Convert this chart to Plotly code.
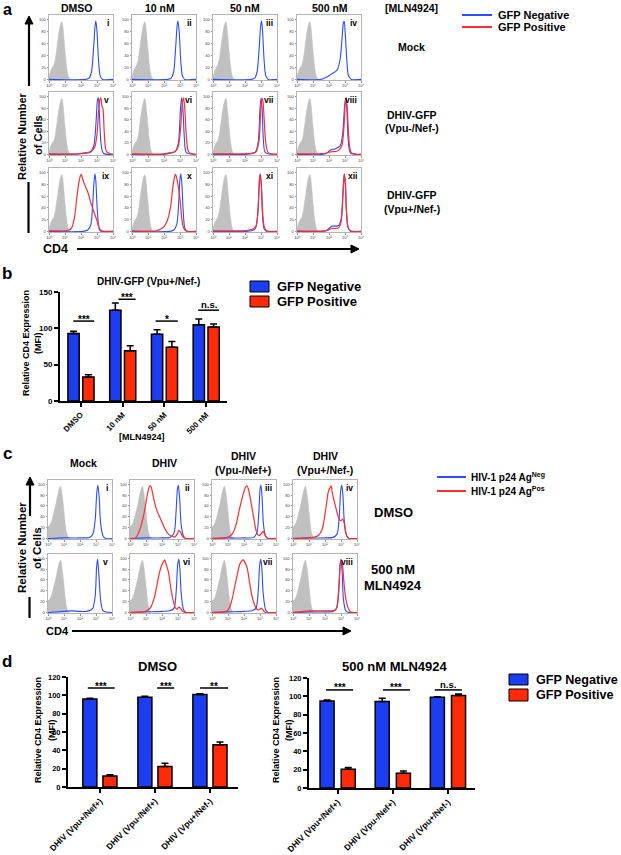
import plotly.graph_objects as go

# ====================== DATA ======================
# Histograms: x = log10(CD4 fluorescence), y = relative number of cells (% of max)
GRAY_A_X = [0, 0.1, 0.2, 0.3, 0.4, 0.5, 0.6, 0.7, 0.8, 0.85, 0.9, 1.0, 1.1, 1.2, 1.3, 1.4]
GRAY_A_Y = [5, 14, 20, 24, 35, 55, 75, 90, 97, 93, 80, 50, 22, 6, 1, 0]
GRAY_C_X = [0, 0.1, 0.2, 0.3, 0.4, 0.5, 0.6, 0.7, 0.78, 0.85, 0.95, 1.05, 1.15, 1.25, 1.35]
GRAY_C_Y = [22, 24, 30, 40, 52, 65, 80, 92, 97, 88, 65, 35, 12, 3, 0]

# Panel a (Mock row)
A1_BLUE_X = [0, 2.3, 2.5, 2.65, 2.78, 2.88, 2.93, 3.0, 3.1, 3.2, 3.35, 4]
A1_BLUE_Y = [0, 0, 2, 12, 50, 90, 98, 80, 30, 6, 0, 0]
A2_BLUE_X = [0, 2.25, 2.45, 2.6, 2.72, 2.82, 2.87, 2.95, 3.05, 3.15, 3.3, 4]
A2_BLUE_Y = [0, 0, 2, 12, 50, 90, 98, 80, 30, 6, 0, 0]
A3_BLUE_X = [0, 2.4, 2.6, 2.75, 2.88, 2.98, 3.04, 3.1, 3.2, 3.3, 3.45, 4]
A3_BLUE_Y = [0, 0, 2, 12, 50, 90, 98, 80, 30, 6, 0, 0]
A4_BLUE_X = [0, 1.5, 1.8, 2.0, 2.2, 2.4, 2.55, 2.7, 2.82, 2.9, 2.95, 3.02, 3.12, 3.22, 3.4, 4]
A4_BLUE_Y = [0, 0, 3, 6, 10, 13, 18, 35, 70, 95, 98, 75, 30, 6, 0, 0]
# Panel a (DHIV-GFP Vpu-/Nef- row)
A5_BLUE_X = [0, 1.8, 2.3, 2.6, 2.8, 2.95, 3.03, 3.08, 3.15, 3.25, 3.4, 4]
A5_BLUE_Y = [0, 1, 2, 4, 15, 60, 95, 98, 70, 20, 2, 0]
A5_RED_X = [0, 1.8, 2.3, 2.6, 2.85, 3.0, 3.1, 3.18, 3.24, 3.3, 3.38, 3.45, 3.6, 4]
A5_RED_Y = [1, 1, 3, 5, 12, 35, 75, 95, 98, 85, 78, 40, 5, 0]
A6_BLUE_X = [0, 2.0, 2.4, 2.7, 2.9, 3.02, 3.1, 3.18, 3.28, 3.4, 4]
A6_BLUE_Y = [0, 0, 2, 5, 20, 75, 98, 80, 25, 3, 0]
A6_RED_X = [0, 2.0, 2.4, 2.7, 2.9, 3.05, 3.15, 3.22, 3.3, 3.4, 3.55, 4]
A6_RED_Y = [1, 1, 3, 5, 15, 50, 90, 98, 80, 30, 4, 0]
A7_BLUE_X = [0, 2.0, 2.4, 2.65, 2.82, 2.93, 3.0, 3.07, 3.15, 3.28, 4]
A7_BLUE_Y = [0, 0, 1, 4, 20, 75, 98, 80, 25, 3, 0]
A7_RED_X = [0, 2.0, 2.4, 2.7, 2.88, 2.98, 3.06, 3.12, 3.2, 3.3, 3.45, 4]
A7_RED_Y = [1, 1, 2, 5, 25, 75, 97, 92, 60, 20, 3, 0]
A8_BLUE_X = [0, 1.8, 2.0, 2.2, 2.35, 2.5, 2.7, 2.85, 2.98, 3.05, 3.12, 3.2, 3.35, 4]
A8_BLUE_Y = [0, 1, 6, 9, 9, 11, 15, 35, 85, 98, 75, 25, 2, 0]
A8_RED_X = [0, 1.8, 2.0, 2.2, 2.4, 2.6, 2.8, 2.93, 3.02, 3.08, 3.15, 3.25, 3.4, 4]
A8_RED_Y = [1, 2, 4, 5, 5, 7, 15, 45, 90, 98, 75, 25, 3, 0]
# Panel a (DHIV-GFP Vpu+/Nef- row)
A9_BLUE_X = [0, 2.1, 2.4, 2.6, 2.72, 2.8, 2.87, 2.93, 3.0, 3.1, 3.2, 4]
A9_BLUE_Y = [0, 0, 2, 10, 40, 80, 98, 85, 45, 10, 1, 0]
A9_RED_X = [0, 1.2, 1.4, 1.6, 1.75, 1.9, 2.0, 2.05, 2.15, 2.3, 2.45, 2.6, 2.75, 2.85, 3.0, 3.15, 3.3, 4]
A9_RED_Y = [1, 2, 5, 25, 60, 88, 97, 95, 85, 75, 65, 50, 38, 30, 18, 5, 1, 0]
A10_BLUE_X = [0, 2.3, 2.6, 2.8, 2.92, 3.0, 3.05, 3.12, 3.2, 3.3, 3.45, 4]
A10_BLUE_Y = [0, 0, 2, 12, 50, 90, 98, 80, 35, 6, 0, 0]
A10_RED_X = [0, 1.5, 1.8, 2.0, 2.2, 2.4, 2.55, 2.65, 2.72, 2.8, 2.9, 3.0, 3.1, 3.2, 3.35, 4]
A10_RED_Y = [1, 1, 4, 8, 18, 40, 75, 92, 97, 90, 75, 55, 25, 8, 1, 0]
A11_BLUE_X = [0, 2.0, 2.4, 2.65, 2.8, 2.9, 2.95, 3.02, 3.1, 3.2, 3.35, 4]
A11_BLUE_Y = [0, 0, 1, 5, 30, 85, 98, 80, 25, 4, 0, 0]
A11_RED_X = [0, 1.8, 2.2, 2.5, 2.7, 2.82, 2.9, 2.95, 3.02, 3.1, 3.2, 3.35, 4]
A11_RED_Y = [1, 1, 2, 4, 10, 40, 88, 97, 80, 35, 8, 1, 0]
A12_BLUE_X = [0, 1.8, 2.0, 2.2, 2.4, 2.6, 2.75, 2.88, 2.95, 3.02, 3.1, 3.2, 3.35, 4]
A12_BLUE_Y = [0, 1, 5, 9, 9, 10, 20, 70, 98, 80, 30, 6, 0, 0]
A12_RED_X = [0, 1.8, 2.0, 2.2, 2.4, 2.6, 2.75, 2.88, 2.96, 3.03, 3.1, 3.2, 3.35, 4]
A12_RED_Y = [1, 1, 3, 5, 5, 6, 15, 65, 98, 80, 30, 6, 1, 0]

# Panel c (DMSO row)
C1_BLUE_X = [0, 1.0, 2.0, 2.6, 2.8, 2.95, 3.05, 3.12, 3.2, 3.3, 3.45, 3.6, 4]
C1_BLUE_Y = [0, 1, 1, 2, 8, 35, 85, 98, 75, 25, 4, 0, 0]
C2_BLUE_X = [0, 1.0, 2.0, 2.5, 2.75, 2.88, 2.96, 3.02, 3.1, 3.2, 3.35, 3.5, 4]
C2_BLUE_Y = [0, 1, 1, 2, 10, 50, 90, 98, 75, 25, 4, 0, 0]
C2_RED_X = [0, 0.3, 0.45, 0.6, 0.75, 0.9, 1.05, 1.2, 1.3, 1.4, 1.55, 1.7, 1.85, 2.0, 2.2, 2.4, 2.6, 2.8, 2.95, 3.05, 3.15, 3.3, 3.5, 4]
C2_RED_Y = [0, 0, 5, 15, 30, 50, 75, 95, 97, 85, 65, 50, 40, 30, 17, 8, 4, 3, 8, 15, 12, 3, 0, 0]
C3_BLUE_X = [0, 1.0, 2.0, 2.6, 2.8, 2.93, 3.0, 3.06, 3.13, 3.22, 3.35, 3.5, 4]
C3_BLUE_Y = [0, 1, 1, 2, 10, 50, 90, 98, 75, 25, 4, 0, 0]
C3_RED_X = [0, 0.8, 1.1, 1.3, 1.5, 1.65, 1.8, 1.95, 2.1, 2.2, 2.3, 2.45, 2.6, 2.75, 2.9, 3.0, 3.1, 3.2, 3.3, 3.45, 4]
C3_RED_Y = [0, 1, 4, 10, 25, 45, 65, 82, 95, 97, 88, 65, 40, 15, 6, 6, 10, 13, 7, 1, 0]
C4_BLUE_X = [0, 1.0, 2.0, 2.5, 2.75, 2.9, 2.98, 3.05, 3.12, 3.2, 3.35, 3.5, 4]
C4_BLUE_Y = [0, 1, 1, 2, 8, 45, 88, 98, 80, 35, 5, 0, 0]
C4_RED_X = [0, 1.0, 1.4, 1.6, 1.8, 1.95, 2.1, 2.2, 2.3, 2.38, 2.45, 2.55, 2.65, 2.75, 2.85, 2.95, 3.05, 3.12, 3.2, 3.3, 3.45, 4]
C4_RED_Y = [0, 1, 3, 6, 15, 35, 65, 85, 93, 97, 85, 72, 60, 48, 38, 33, 34, 36, 28, 10, 1, 0]
# Panel c (500 nM MLN4924 row)
C5_BLUE_X = [0, 1.0, 1.5, 2.0, 2.4, 2.65, 2.8, 2.95, 3.04, 3.1, 3.18, 3.3, 3.45, 4]
C5_BLUE_Y = [0, 2, 3, 2, 2, 4, 8, 30, 85, 98, 70, 20, 3, 0]
C6_BLUE_X = [0, 1.0, 2.0, 2.5, 2.75, 2.9, 2.98, 3.05, 3.12, 3.2, 3.35, 3.5, 4]
C6_BLUE_Y = [0, 1, 2, 3, 8, 45, 88, 98, 80, 35, 5, 0, 0]
C6_RED_X = [0, 0.8, 1.1, 1.3, 1.5, 1.65, 1.8, 1.95, 2.08, 2.17, 2.25, 2.4, 2.55, 2.7, 2.85, 2.95, 3.05, 3.15, 3.3, 3.45, 4]
C6_RED_Y = [0, 1, 4, 10, 25, 45, 68, 85, 93, 97, 90, 75, 45, 22, 8, 6, 10, 8, 2, 0, 0]
C7_BLUE_X = [0, 1.0, 2.0, 2.5, 2.75, 2.9, 2.98, 3.05, 3.12, 3.2, 3.35, 3.5, 4]
C7_BLUE_Y = [0, 1, 2, 3, 8, 45, 88, 98, 80, 35, 5, 0, 0]
C7_RED_X = [0, 0.7, 0.95, 1.1, 1.26, 1.4, 1.58, 1.72, 1.85, 1.96, 2.05, 2.2, 2.35, 2.5, 2.65, 2.8, 2.95, 3.08, 3.2, 3.35, 4]
C7_RED_Y = [0, 1, 3, 10, 25, 45, 70, 88, 95, 97, 93, 82, 55, 30, 15, 6, 5, 8, 4, 0, 0]
C8_BLUE_X = [0, 1.0, 2.0, 2.5, 2.7, 2.85, 2.94, 3.0, 3.07, 3.15, 3.3, 3.5, 4]
C8_BLUE_Y = [0, 1, 1, 2, 6, 40, 88, 98, 75, 25, 3, 0, 0]
C8_RED_X = [0, 1.0, 1.5, 2.0, 2.4, 2.6, 2.75, 2.88, 2.96, 3.02, 3.1, 3.2, 3.3, 3.45, 3.6, 4]
C8_RED_Y = [0, 3, 3, 3, 3, 4, 10, 50, 90, 97, 85, 50, 25, 8, 1, 0]

HIST_XTICKS = ["10⁰", "10¹", "10²", "10³", "10⁴"]
HIST_YTICKS = [0, 20, 40, 60, 80, 100]

# Panel b: relative CD4 expression (MFI), DHIV-GFP (Vpu+/Nef-)
B_CATS = ["DMSO", "10 nM", "50 nM", "500 nM"]
B_NEG = [93, 125, 92, 105]
B_NEG_ERR = [3, 10, 6, 8]
B_POS = [33, 69, 74, 102]
B_POS_ERR = [3, 7, 8, 4]
B_SIG_LABELS = ["***", "***", "*", "n.s."]
B_SIG_Y = [110, 140, 110, 125]

# Panel d
D_CATS = ["DHIV (Vpu+/Nef+)", "DHIV (Vpu-/Nef+)", "DHIV (Vpu+/Nef-)"]
D_DMSO_NEG = [96, 98, 101]
D_DMSO_NEG_ERR = [0.7, 1, 0.7]
D_DMSO_POS = [12, 22.5, 46]
D_DMSO_POS_ERR = [1.5, 3.5, 3]
D_DMSO_SIG = ["***", "***", "**"]
D_MLN_NEG = [95, 94.5, 99]
D_MLN_NEG_ERR = [1, 3.5, 0.5]
D_MLN_POS = [20.5, 16, 101]
D_MLN_POS_ERR = [2, 2.5, 1.5]
D_MLN_SIG = ["***", "***", "n.s."]
D_SIG_Y = 108

# ====================== STYLE / LAYOUT ======================
W, H = 621, 855
FONT = "Liberation Sans, Arial, Helvetica, sans-serif"
BLUE_LINE = "rgb(45,75,255)"
RED_LINE = "rgb(255,45,45)"
GRAY_FILL = "rgb(192,192,192)"
BAR_BLUE = "rgb(28,62,240)"
BAR_RED = "rgb(255,42,8)"


def PX(x):
    return x / W


def PY(y):
    return 1 - y / H


fig = go.Figure()
axes = {}
shapes = []
annotations = []
_n = [0]


def new_axes(x0, x1, y0, y1, xopts, yopts):
    _n[0] += 1
    s = "" if _n[0] == 1 else str(_n[0])
    axes["xaxis" + s] = dict(domain=[PX(x0), PX(x1)], anchor="y" + s, automargin=False, **xopts)
    axes["yaxis" + s] = dict(domain=[PY(y1), PY(y0)], anchor="x" + s, automargin=False, **yopts)
    return "x" + s, "y" + s


def text(x, y, s, size, xanchor="center", yanchor="middle", angle=0, bold=True, color="black", pad=1):
    annotations.append(dict(
        x=PX(x), y=PY(y), xref="paper", yref="paper",
        text=("<b>%s</b>" % s) if bold else s, showarrow=False,
        font=dict(family=FONT, size=size, color=color), borderpad=pad,
        xanchor=xanchor, yanchor=yanchor, textangle=angle))


def pline(x0, y0, x1, y1, color="black", width=2.2):
    shapes.append(dict(type="line", xref="paper", yref="paper",
                       x0=PX(x0), y0=PY(y0), x1=PX(x1), y1=PY(y1),
                       line=dict(color=color, width=width)))


def prect(x0, y0, x1, y1, fill):
    shapes.append(dict(type="rect", xref="paper", yref="paper",
                       x0=PX(x0), y0=PY(y0), x1=PX(x1), y1=PY(y1),
                       fillcolor=fill, line=dict(color="black", width=1)))


def arrow(hx, hy, tx, ty, width=2.2, head=8, half=4):
    # shaft + filled triangular head drawn as shapes
    if hx == tx:  # vertical, head up
        sgn = 1 if ty > hy else -1
        pline(tx, ty, hx, hy + sgn * head * 0.8, width=width)
        pts = [(hx, hy), (hx - half, hy + sgn * head), (hx + half, hy + sgn * head)]
    else:  # horizontal
        sgn = 1 if tx > hx else -1
        pline(tx, ty, hx + sgn * head * 0.8, hy, width=width)
        pts = [(hx, hy), (hx + sgn * head, hy - half), (hx + sgn * head, hy + half)]
    path = "M %f,%f L %f,%f L %f,%f Z" % tuple(v for p in pts for v in (PX(p[0]), PY(p[1])))
    shapes.append(dict(type="path", xref="paper", yref="paper", path=path,
                       fillcolor="black", line=dict(color="black", width=1)))


def hist_axes(box):
    x0, x1, y0, y1 = box
    xo = dict(range=[0, 4], tickvals=[0, 1, 2, 3, 4], ticktext=HIST_XTICKS,
              showline=True, mirror=True, linecolor="#b4b4b4", linewidth=1,
              showgrid=False, zeroline=False, ticks="outside", ticklen=1.5,
              tickcolor="#999", tickfont=dict(size=4, color="#444", family=FONT))
    yo = dict(range=[-1, 108], tickvals=HIST_YTICKS, ticktext=[str(v) for v in HIST_YTICKS],
              showline=True, mirror=True, linecolor="#b4b4b4", linewidth=1,
              showgrid=False, zeroline=False, ticks="outside", ticklen=1.5,
              tickcolor="#999", tickfont=dict(size=4, color="#444", family=FONT))
    return new_axes(x0, x1, y0, y1, xo, yo)


def add_hist(box, gray, blue, red, numeral):
    xa, ya = hist_axes(box)
    fig.add_trace(go.Scatter(x=gray[0], y=gray[1], xaxis=xa, yaxis=ya, mode="lines",
                             line=dict(color=GRAY_FILL, width=0.5, shape="spline", smoothing=0.7),
                             fill="tozeroy", fillcolor=GRAY_FILL, hoverinfo="skip"))
    if blue is not None:
        fig.add_trace(go.Scatter(x=blue[0], y=blue[1], xaxis=xa, yaxis=ya, mode="lines",
                                 line=dict(color=BLUE_LINE, width=1.1, shape="spline", smoothing=0.8),
                                 hoverinfo="skip"))
    if red is not None:
        fig.add_trace(go.Scatter(x=red[0], y=red[1], xaxis=xa, yaxis=ya, mode="lines",
                                 line=dict(color=RED_LINE, width=1.2, shape="spline", smoothing=0.8),
                                 hoverinfo="skip"))
    x0, x1, y0, y1 = box
    text(x1 - 2.5, y0 + 1, numeral, 8.5, xanchor="right", yanchor="top")


def add_bars(box, xrange, yrange, ytickvals, cats, neg, neg_err, pos, pos_err,
             neg_off, pos_off, bw, sig_labels, sig_ys, sig_spans, tick_size, cat_size):
    x0, x1, y0, y1 = box
    xo = dict(range=xrange, tickvals=list(range(len(cats))),
              ticktext=["<b>%s</b>" % c for c in cats], tickangle=-45,
              showline=True, linecolor="black", linewidth=2, showgrid=False, zeroline=False,
              ticks="outside", ticklen=4, tickwidth=1.5, tickcolor="black",
              tickfont=dict(size=cat_size, color="black", family=FONT))
    yo = dict(range=yrange, tickvals=ytickvals, ticktext=["<b>%d</b>" % v for v in ytickvals],
              showline=True, linecolor="black", linewidth=2, showgrid=False, zeroline=False,
              ticks="outside", ticklen=4, tickwidth=1.5, tickcolor="black",
              tickfont=dict(size=tick_size, color="black", family=FONT))
    xa, ya = new_axes(x0, x1, y0, y1, xo, yo)
    idx = list(range(len(cats)))
    for vals, errs, off, col in ((neg, neg_err, neg_off, BAR_BLUE), (pos, pos_err, pos_off, BAR_RED)):
        fig.add_trace(go.Bar(
            x=idx, y=vals, offset=off, width=bw, xaxis=xa, yaxis=ya,
            marker=dict(color=col, line=dict(color="black", width=1.5)),
            error_y=dict(type="data", array=errs, arrayminus=[0] * len(errs), symmetric=False,
                         color="black", thickness=1.5, width=3.5),
            hoverinfo="skip"))
    for i, (lab, yv, (a, b)) in enumerate(zip(sig_labels, sig_ys, sig_spans)):
        shapes.append(dict(type="line", xref=xa, yref=ya, x0=i + a, x1=i + b, y0=yv, y1=yv,
                           line=dict(color="black", width=1.5)))
        if lab == "n.s.":
            annotations.append(dict(x=i + (a + b) / 2, y=yv, xref=xa, yref=ya, text="<b>n.s.</b>",
                                    showarrow=False, xanchor="center", yanchor="bottom", yshift=-2,
                                    font=dict(family=FONT, size=9.5, color="black")))
        else:
            annotations.append(dict(x=i + (a + b) / 2, y=yv, xref=xa, yref=ya, text="<b>%s</b>" % lab,
                                    showarrow=False, xanchor="center", yanchor="middle", yshift=2,
                                    font=dict(family=FONT, size=10, color="black")))


# ---------------- Panel a ----------------
A_COLS = [(49, 113), (132, 196), (213, 277), (297, 361)]
A_ROWS = [(15, 80), (92, 155), (168, 232)]
A_CURVES = [
    [((A1_BLUE_X, A1_BLUE_Y), None, "i"), ((A2_BLUE_X, A2_BLUE_Y), None, "ii"),
     ((A3_BLUE_X, A3_BLUE_Y), None, "iii"), ((A4_BLUE_X, A4_BLUE_Y), None, "iv")],
    [((A5_BLUE_X, A5_BLUE_Y), (A5_RED_X, A5_RED_Y), "v"), ((A6_BLUE_X, A6_BLUE_Y), (A6_RED_X, A6_RED_Y), "vi"),
     ((A7_BLUE_X, A7_BLUE_Y), (A7_RED_X, A7_RED_Y), "vii"), ((A8_BLUE_X, A8_BLUE_Y), (A8_RED_X, A8_RED_Y), "viii")],
    [((A9_BLUE_X, A9_BLUE_Y), (A9_RED_X, A9_RED_Y), "ix"), ((A10_BLUE_X, A10_BLUE_Y), (A10_RED_X, A10_RED_Y), "x"),
     ((A11_BLUE_X, A11_BLUE_Y), (A11_RED_X, A11_RED_Y), "xi"), ((A12_BLUE_X, A12_BLUE_Y), (A12_RED_X, A12_RED_Y), "xii")],
]
for r, (ry0, ry1) in enumerate(A_ROWS):
    for c, (cx0, cx1) in enumerate(A_COLS):
        blue, red, num = A_CURVES[r][c]
        add_hist((cx0, cx1, ry0, ry1), (GRAY_A_X, GRAY_A_Y), blue, red, num)

text(7, 0, "a", 16, yanchor="top", pad=0)
for s, x in zip(["DMSO", "10 nM", "50 nM", "500 nM"], [77, 160, 245, 330]):
    text(x, 8.5, s, 10.5)
text(412, 8.5, "[MLN4924]", 10.5)
pline(462, 15, 492, 15, BLUE_LINE, 2)
pline(462, 27, 492, 27, RED_LINE, 2)
text(496, 15, "GFP Negative", 11, xanchor="left")
text(496, 27, "GFP Positive", 11, xanchor="left")
text(412, 47, "Mock", 10.5)
text(412, 115, "DHIV-GFP", 10.5)
text(412, 128, "(Vpu-/Nef-)", 10.5)
text(412, 195, "DHIV-GFP", 10.5)
text(412, 209, "(Vpu+/Nef-)", 10.5)
text(22, 136, "Relative Number", 11, angle=-90)
text(38, 135, "of Cells", 11, angle=-90)
arrow(29, 16, 29, 86)
pline(28.5, 182, 28.5, 233)
text(55, 249, "CD4", 12.5)
arrow(359, 249, 77, 249)

# ---------------- Panel b ----------------
text(7, 274, "b", 17)
text(148, 281, "DHIV-GFP (Vpu+/Nef-)", 10)
prect(250, 281, 269, 292, BAR_BLUE)
prect(250, 296, 269, 307, BAR_RED)
text(275, 286.5, "GFP Negative", 13, xanchor="left")
text(275, 301.5, "GFP Positive", 13, xanchor="left")
text(26, 343, "Relative CD4 Expression", 9, angle=-90)
text(38, 343, "(MFI)", 9, angle=-90)
text(142, 437, "[MLN4924]", 9)
add_bars((60, 227, 292, 401), [-0.5, 3.5], [0, 150], [0, 50, 100, 150], B_CATS,
         B_NEG, B_NEG_ERR, B_POS, B_POS_ERR, -0.31, 0.045, 0.27,
         B_SIG_LABELS, B_SIG_Y, [(-0.18, 0.32), (-0.1, 0.31), (-0.21, 0.32), (-0.19, 0.31)], 8, 8)

# ---------------- Panel c ----------------
C_COLS = [(48, 112), (130, 194), (212, 276), (293, 357)]
C_ROWS = [(480, 539), (554, 613)]
C_CURVES = [
    [((C1_BLUE_X, C1_BLUE_Y), None, "i"), ((C2_BLUE_X, C2_BLUE_Y), (C2_RED_X, C2_RED_Y), "ii"),
     ((C3_BLUE_X, C3_BLUE_Y), (C3_RED_X, C3_RED_Y), "iii"), ((C4_BLUE_X, C4_BLUE_Y), (C4_RED_X, C4_RED_Y), "iv")],
    [((C5_BLUE_X, C5_BLUE_Y), None, "v"), ((C6_BLUE_X, C6_BLUE_Y), (C6_RED_X, C6_RED_Y), "vi"),
     ((C7_BLUE_X, C7_BLUE_Y), (C7_RED_X, C7_RED_Y), "vii"), ((C8_BLUE_X, C8_BLUE_Y), (C8_RED_X, C8_RED_Y), "viii")],
]
for r, (ry0, ry1) in enumerate(C_ROWS):
    for c, (cx0, cx1) in enumerate(C_COLS):
        blue, red, num = C_CURVES[r][c]
        add_hist((cx0, cx1, ry0, ry1), (GRAY_C_X, GRAY_C_Y), blue, red, num)

text(7, 453, "c", 17)
text(83, 463, "Mock", 10.5)
text(164, 463, "DHIV", 10.5)
text(243, 456, "DHIV", 10.5)
text(243, 470, "(Vpu-/Nef+)", 10.5)
text(325, 456, "DHIV", 10.5)
text(325, 470, "(Vpu+/Nef-)", 10.5)
pline(437, 477, 466, 477, BLUE_LINE, 2)
pline(437, 491, 466, 491, RED_LINE, 2)
text(469, 477, "HIV-1 p24 Ag<sup>Neg</sup>", 10, xanchor="left")
text(469, 491, "HIV-1 p24 Ag<sup>Pos</sup>", 10, xanchor="left")
text(393, 512, "DMSO", 13)
text(393, 569, "500 nM", 13)
text(393, 585, "MLN4924", 13)
text(22, 548, "Relative Number", 11.5, angle=-90)
text(37, 548, "of Cells", 11.5, angle=-90)
arrow(30, 477, 30, 516)
pline(29.5, 597, 29.5, 618)
text(57, 631, "CD4", 11)
arrow(351, 631, 72, 631)

# ---------------- Panel d ----------------
text(7, 661, "d", 17)
text(157, 666, "DMSO", 13)
text(395, 666, "500 nM MLN4924", 13)
text(38, 730, "Relative CD4 Expression", 9, angle=-90)
text(52, 730, "(MFI)", 9, angle=-90)
text(276, 730, "Relative CD4 Expression", 9, angle=-90)
text(289, 730, "(MFI)", 9, angle=-90)
add_bars((68, 238, 677, 787), [-0.58, 2.51], [0, 120], [0, 20, 40, 60, 80, 100, 120], D_CATS,
         D_DMSO_NEG, D_DMSO_NEG_ERR, D_DMSO_POS, D_DMSO_POS_ERR, -0.31, 0.055, 0.255,
         D_DMSO_SIG, [D_SIG_Y] * 3, [(-0.22, 0.27), (0.04, 0.35), (-0.18, 0.33)], 7.5, 8.5)
add_bars((309, 475, 678, 788), [-0.52, 2.49], [0, 120], [0, 20, 40, 60, 80, 100, 120], D_CATS,
         D_MLN_NEG, D_MLN_NEG_ERR, D_MLN_POS, D_MLN_POS_ERR, -0.32, 0.064, 0.255,
         D_MLN_SIG, [D_SIG_Y - 1] * 3, [(-0.21, 0.28), (-0.18, 0.31), (-0.24, 0.25)], 7.5, 8.5)
prect(509, 674, 528, 685, BAR_BLUE)
prect(509, 689, 528, 701, BAR_RED)
text(534, 679.5, "GFP Negative", 12.6, xanchor="left")
text(534, 695, "GFP Positive", 12.6, xanchor="left")

fig.update_layout(
    width=W, height=H, margin=dict(l=0, r=0, t=0, b=0, autoexpand=False),
    paper_bgcolor="white", plot_bgcolor="white", showlegend=False,
    barmode="overlay", font=dict(family=FONT, color="black"),
    shapes=shapes, annotations=annotations, **axes)

fig.write_html("out.html", config={"displayModeBar": False},
               post_script="document.body.style.margin='0';")
